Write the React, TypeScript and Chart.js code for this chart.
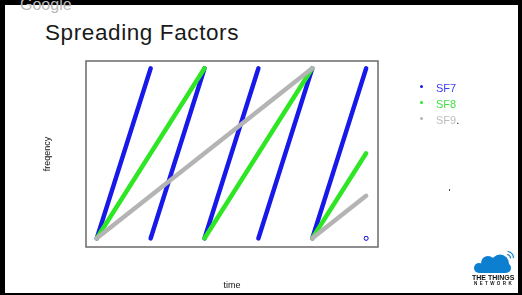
import React, { useEffect, useRef } from "react";
import { Chart, registerables } from "chart.js";

Chart.register(...registerables);

// Chirp corner points: time in SF7 symbol periods, frequency as a fraction of the band
const sf7Times = [0, 1, 1, 2, 2, 3, 3, 4, 4, 5, 5];
const sf7Freqs = [0, 1, 0, 1, 0, 1, 0, 1, 0, 1, 0];
const sf8Times = [0, 2, 2, 4, 4, 5];
const sf8Freqs = [0, 1, 0, 1, 0, 0.5];
const sf9Times = [0, 4, 4, 5];
const sf9Freqs = [0, 1, 0, 0.25];

const seriesNames = ["SF7", "SF8", "SF9"];
const lineColors = ["#1818e8", "#2ee624", "#b4b4b4"];
const legendTextColors = ["#3c3cf0", "#44e044", "#bdbdbd"];

// A frequency drop back to the band bottom starts a new chirp, so break the line there
function toChirpPoints(times: number[], freqs: number[]) {
  const pts: { x: number; y: number | null }[] = [];
  for (let i = 0; i < times.length; i++) {
    if (i > 0 && freqs[i] < freqs[i - 1]) pts.push({ x: times[i], y: null });
    pts.push({ x: times[i], y: freqs[i] });
  }
  return pts;
}

const plotFrame = {
  id: "plotFrame",
  beforeDatasetsDraw(chart: any) {
    const { ctx, chartArea } = chart;
    ctx.save();
    ctx.strokeStyle = "#6a6a6a";
    ctx.lineWidth = 1.5;
    ctx.strokeRect(chartArea.left, chartArea.top, chartArea.right - chartArea.left, chartArea.bottom - chartArea.top);
    ctx.restore();
  },
};

export default function App() {
  const canvasRef = useRef<HTMLCanvasElement | null>(null);

  useEffect(() => {
    if (!canvasRef.current) return;
    const sf7 = toChirpPoints(sf7Times, sf7Freqs);
    const sf8 = toChirpPoints(sf8Times, sf8Freqs);
    const sf9 = toChirpPoints(sf9Times, sf9Freqs);
    const lastSf7 = sf7.length - 1;

    const common = {
      borderWidth: 4.5,
      borderCapStyle: "round" as const,
      borderJoinStyle: "round" as const,
      tension: 0,
      fill: false,
      spanGaps: false,
      clip: false as any,
    };

    const chart = new Chart(canvasRef.current, {
      type: "line",
      data: {
        datasets: [
          {
            ...common,
            label: seriesNames[0],
            data: sf7 as any,
            borderColor: lineColors[0],
            pointRadius: (c: any) => (c.dataIndex === lastSf7 ? 2 : 0),
            pointBorderWidth: 1,
            pointBorderColor: lineColors[0],
            pointBackgroundColor: "#ffffff",
            order: 3,
          },
          {
            ...common,
            label: seriesNames[1],
            data: sf8 as any,
            borderColor: lineColors[1],
            pointRadius: 0,
            order: 2,
          },
          {
            ...common,
            label: seriesNames[2],
            data: sf9 as any,
            borderColor: lineColors[2],
            pointRadius: 0,
            order: 1,
          },
        ],
      },
      options: {
        responsive: false,
        animation: false,
        layout: { padding: { left: 42, right: 144, top: 61, bottom: 3.6 } },
        plugins: { legend: { display: false }, tooltip: { enabled: false } },
        scales: {
          x: {
            type: "linear",
            min: -0.2,
            max: 5.22,
            grid: { display: false, drawTicks: false },
            border: { display: false },
            ticks: { display: false },
            title: {
              display: true,
              text: "time",
              color: "#111",
              font: { family: "Liberation Sans", size: 9 },
              padding: { top: 33.6, bottom: 0 },
            },
          },
          y: {
            type: "linear",
            min: -0.051,
            max: 1.043,
            grid: { display: false, drawTicks: false },
            border: { display: false },
            ticks: { display: false },
            title: {
              display: true,
              text: "freqency",
              color: "#111",
              font: { family: "Liberation Sans", size: 9 },
              padding: { top: 0, bottom: 33.2 },
            },
          },
        },
      },
      plugins: [plotFrame],
    });
    return () => chart.destroy();
  }, []);

  const font = "'Liberation Sans', Arial, sans-serif";
  const legendDotY = [86.7, 102.3, 118.7];

  return (
    <div style={{ position: "fixed", left: 0, top: 0, width: 522, height: 295, background: "#000", overflow: "hidden", fontFamily: font }}>
      <div style={{ position: "absolute", left: 5, top: 5, width: 513, height: 288, background: "#fff" }} />
      <div style={{ position: "absolute", left: 20, top: -3.5, fontSize: 16, lineHeight: "16px", color: "#b8b8b8" }}>Google</div>
      <div style={{ position: "absolute", left: 45, top: 22, fontSize: 22.5, lineHeight: "22px", letterSpacing: 0.6, color: "#1a1a1a", whiteSpace: "nowrap" }}>
        Spreading Factors
      </div>
      <canvas ref={canvasRef} width={522} height={295} style={{ position: "absolute", left: 0, top: 0, display: "block" }} />
      {seriesNames.map((name, i) => (
        <React.Fragment key={name}>
          <div style={{ position: "absolute", left: 420.2, top: legendDotY[i] - 1.5, width: 3, height: 3, borderRadius: "50%", background: lineColors[i] }} />
          <div style={{ position: "absolute", left: 436, top: legendDotY[i] - 5.5, fontSize: 11, lineHeight: "14px", color: legendTextColors[i], whiteSpace: "nowrap" }}>
            {name}
            {i === 2 ? <span style={{ color: "#222" }}>.</span> : null}
          </div>
        </React.Fragment>
      ))}
      <div style={{ position: "absolute", left: 448.5, top: 189, width: 1.5, height: 1.5, background: "#444" }} />
      <svg style={{ position: "absolute", left: 470, top: 248 }} width={48} height={40} viewBox="0 0 48 40">
        <g fill="#0d7fd0">
          <circle cx={9} cy={20} r={5} />
          <circle cx={18} cy={15} r={7} />
          <circle cx={30} cy={15.5} r={9} />
          <circle cx={36} cy={20} r={5} />
          <rect x={9} y={16} width={27} height={9} />
        </g>
        <g fill="none" stroke="#0d7fd0" strokeWidth={1.2} strokeLinecap="round">
          <path d="M37.5 6.5 A4 4 0 0 1 40.5 10" />
          <path d="M38 3.5 A7 7 0 0 1 43.5 9.5" />
        </g>
        <text x={2} y={32} fontFamily={font} fontWeight="bold" fontSize={7} fill="#111">THE THINGS</text>
        <text x={4} y={37} fontFamily={font} fontWeight="bold" fontSize={4.5} letterSpacing={2.4} fill="#111">NETWORK</text>
      </svg>
    </div>
  );
}
